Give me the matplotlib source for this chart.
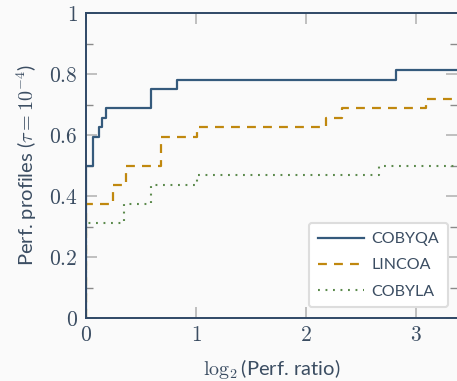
import matplotlib
matplotlib.use("Agg")
import matplotlib.pyplot as plt

plt.rcParams['font.family'] = ['Lato', 'DejaVu Sans']
plt.rcParams['mathtext.fontset'] = 'cm'

# Data: step profiles (x = log2 perf ratio, y = fraction of problems)
cobyqa_x = [0, 0, 0.066, 0.118, 0.145, 0.185, 0.588, 0.827, 2.815, 3.5]
cobyqa_y = [0, 0.5, 0.59375, 0.625, 0.65625, 0.6875, 0.75, 0.78125, 0.8125, 0.8125]

lincoa_x = [0, 0, 0.243, 0.364, 0.682, 1.006, 2.18, 2.33, 3.09, 3.5]
lincoa_y = [0, 0.375, 0.4375, 0.5, 0.59375, 0.625, 0.65625, 0.6875, 0.71875, 0.71875]

cobyla_x = [0, 0, 0.348, 0.588, 1.006, 2.66, 3.5]
cobyla_y = [0, 0.3125, 0.375, 0.4375, 0.46875, 0.5, 0.5]

labels = ["COBYQA", "LINCOA", "COBYLA"]
colors = ["#355a7c", "#c0880e", "#5b8a4c"]
yticks = [0, 0.2, 0.4, 0.6, 0.8, 1]
ytick_labels = ["0", "0.2", "0.4", "0.6", "0.8", "1"]
xticks = [0, 1, 2, 3]
xtick_labels = ["0", "1", "2", "3"]

txt = "#3b4d62"
bg = "#fafafa"

fig = plt.figure(figsize=(4.57, 3.81), dpi=100, facecolor=bg)
ax = fig.add_axes([86/457, 1-318/381, 1-86/457, (318-13)/381], facecolor=bg)

ax.step(cobyqa_x, cobyqa_y, where='post', color=colors[0], lw=1.6, label=labels[0])
ax.step(lincoa_x, lincoa_y, where='post', color=colors[1], lw=1.6, dashes=(4.0, 3.2), label=labels[1])
ax.step(cobyla_x, cobyla_y, where='post', color=colors[2], lw=1.5, dashes=(0.9, 2.7), label=labels[2])

ax.set_xlim(0, 371/110)
ax.set_ylim(0, 1)

ax.set_yticks(yticks)
ax.set_yticklabels(["$%s$" % t for t in ytick_labels])
ax.set_yticks([0.1, 0.3, 0.5, 0.7, 0.9], minor=True)
ax.set_xticks(xticks)
ax.set_xticklabels(["$%s$" % t for t in xtick_labels])

ax.tick_params(axis='both', which='major', direction='in', length=8, width=1.2,
               color='#b5b5b5', labelsize=15.5, labelcolor=txt, top=True, right=True, pad=5)
ax.tick_params(axis='y', which='minor', direction='in', length=5, width=1.0,
               color='#8a8a8a', right=True)
ax.tick_params(axis='y', which='major', pad=6)

for s in ['left', 'bottom', 'top']:
    ax.spines[s].set_color('#2f4866')
    ax.spines[s].set_linewidth(1.4)
ax.spines['right'].set_visible(False)

ax.set_ylabel(r"Perf. profiles ($\tau = 10^{-4}$)", fontsize=14.5, color=txt, labelpad=7)
ax.set_xlabel(r"$\log_2$(Perf. ratio)", fontsize=14.5, color=txt, labelpad=9)

leg = ax.legend(loc='lower right', fontsize=11.5, frameon=True, fancybox=True,
                handlelength=2.9, borderpad=0.55, labelspacing=0.75,
                bbox_to_anchor=(0.975, 0.035), handletextpad=0.45, borderaxespad=0)
leg.get_frame().set_edgecolor('#dddddd')
leg.get_frame().set_linewidth(1.5)
leg.get_frame().set_facecolor('white')
leg.get_frame().set_alpha(1)
for t in leg.get_texts():
    t.set_color(txt)

fig.savefig("out.png", dpi=100, facecolor=bg)
